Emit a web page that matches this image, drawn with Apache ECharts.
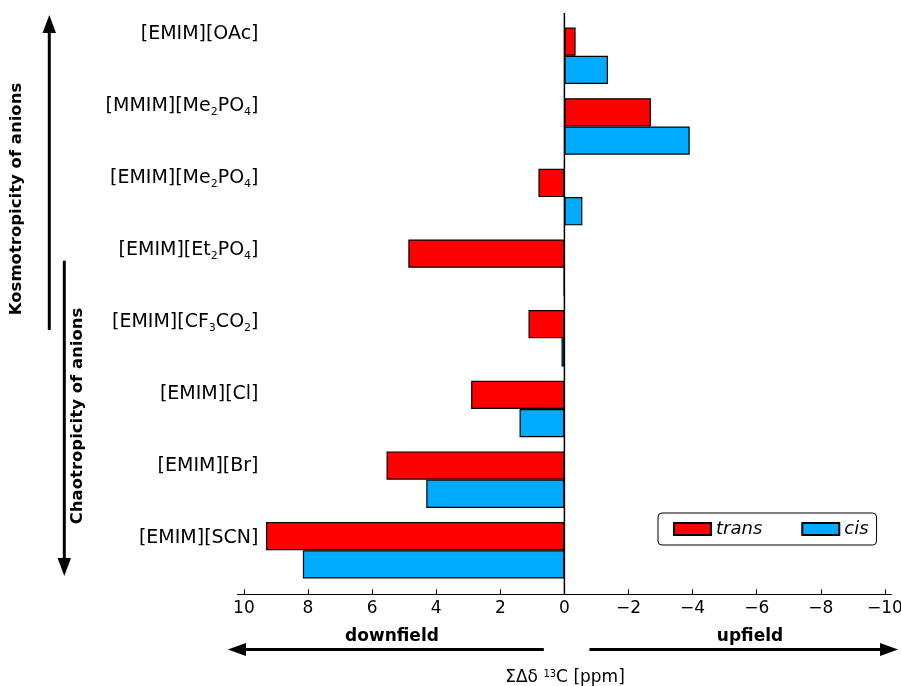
<!DOCTYPE html>
<html>
<head>
<meta charset="utf-8">
<title>13C chemical shift differences</title>
<script src="https://cdn.jsdelivr.net/npm/echarts@6/dist/echarts.min.js"></script>
<style>
  html, body { margin: 0; padding: 0; background: #fff; }
  #chart { width: 901px; height: 686px; }
</style>
</head>
<body>
<div id="chart"></div>
<script>
// Ionic liquids, top to bottom (rich-text markup for subscripts)
const categories = [
  '[EMIM][OAc]',
  '[MMIM][Me{s|2}PO{s|4}]',
  '[EMIM][Me{s|2}PO{s|4}]',
  '[EMIM][Et{s|2}PO{s|4}]',
  '[EMIM][CF{s|3}CO{s|2}]',
  '[EMIM][Cl]',
  '[EMIM][Br]',
  '[EMIM][SCN]'
];
// Sum of 13C shift differences, ppm (positive = downfield)
const transValues = [-0.35, -2.70, 0.81, 4.87, 1.12, 2.91, 5.55, 9.31];
const cisValues   = [-1.36, -3.91, -0.56, 0.02, 0.09, 1.40, 4.31, 8.16];
const tickValues  = [10, 8, 6, 4, 2, 0, -2, -4, -6, -8, -10];

const FONT = 'DejaVu Sans';
const chart = echarts.init(document.getElementById('chart'), null, { renderer: 'canvas' });

const xRange = { min: -10.2, max: 10.2, inverse: true };
const gridBase = { left: 237.5, right: 9.7, containLabel: false, outerBoundsMode: 'none' };

function arrowHead(tip, b1, b2) {
  return { type: 'polygon', shape: { points: [tip, b1, b2] }, style: { fill: '#000' }, z: 10 };
}
function shaft(p1, p2) {
  return { type: 'polyline', shape: { points: [p1, p2] }, style: { stroke: '#000', lineWidth: 3 }, z: 10 };
}

chart.setOption({
  animation: false,
  textStyle: { fontFamily: FONT },
  grid: [
    // bars
    Object.assign({ top: 20.5, bottom: 100.4 }, gridBase),
    // frame: zero line and bottom axis
    Object.assign({ top: 13, bottom: 91.7 }, gridBase),
    // row labels
    Object.assign({ top: -1.5, bottom: 112 }, gridBase)
  ],
  xAxis: [
    Object.assign({ type: 'value', gridIndex: 0, show: false, splitLine: { show: false } }, xRange),
    Object.assign({
      type: 'value', gridIndex: 1,
      splitLine: { show: false },
      axisLine: { show: true, onZero: false, lineStyle: { color: '#000', width: 1.2 } },
      axisTick: { show: true, inside: true, length: 5, customValues: tickValues, lineStyle: { color: '#000' } },
      axisLabel: {
        customValues: tickValues,
        color: '#000', fontFamily: FONT, fontSize: 17, margin: 6,
        formatter: v => String(v).replace('-', '\u2212')
      }
    }, xRange),
    Object.assign({ type: 'value', gridIndex: 2, show: false, splitLine: { show: false } }, xRange)
  ],
  yAxis: [
    {
      type: 'category', gridIndex: 0, data: categories, inverse: true, show: false
    },
    { type: 'value', gridIndex: 1, min: 0, max: 1, show: false },
    {
      type: 'category', gridIndex: 2, data: categories, inverse: true,
      axisLine: { show: false, onZero: false },
      axisTick: { show: false },
      splitLine: { show: false },
      axisLabel: {
        margin: -21, color: '#000', fontFamily: FONT, fontSize: 19,
        rich: {
          s: { fontSize: 11, fontFamily: FONT, color: '#000', padding: [12, 0, 0, 0] }
        }
      }
    }
  ],
  legend: {
    data: ['trans', 'cis'],
    left: 658, top: 513,
    orient: 'horizontal',
    itemWidth: 37, itemHeight: 12, itemGap: 39,
    icon: 'rect',
    padding: [7, 8, 7, 15],
    borderColor: '#000', borderWidth: 1, borderRadius: 4,
    backgroundColor: '#fff',
    textStyle: { fontFamily: FONT, fontSize: 18, fontStyle: 'italic', color: '#000' }
  },
  series: [
    {
      name: 'trans', type: 'bar', xAxisIndex: 0, yAxisIndex: 0,
      data: transValues, barGap: '0%', barCategoryGap: '20%',
      itemStyle: { color: '#ff0000', borderColor: '#000', borderWidth: 1.2 }
    },
    {
      name: 'cis', type: 'bar', xAxisIndex: 0, yAxisIndex: 0,
      data: cisValues, barGap: '0%', barCategoryGap: '20%',
      itemStyle: { color: '#00aaff', borderColor: '#000', borderWidth: 1.2 }
    },
    {
      // zero reference line spanning the full frame
      type: 'line', xAxisIndex: 1, yAxisIndex: 1,
      data: [[0, 0], [0, 1]], symbol: 'none', silent: true, z: 5,
      lineStyle: { color: '#000', width: 1.5 }
    }
  ],
  graphic: [
    {
      type: 'text', x: 17, y: 199, rotation: Math.PI / 2, z: 10,
      style: { text: 'Kosmotropicity of anions', font: 'bold 16.5px "DejaVu Sans"', fill: '#000', align: 'center', verticalAlign: 'middle' }
    },
    {
      type: 'text', x: 78, y: 416, rotation: Math.PI / 2, z: 10,
      style: { text: 'Chaotropicity of anions', font: 'bold 16.5px "DejaVu Sans"', fill: '#000', align: 'center', verticalAlign: 'middle' }
    },
    shaft([49.3, 330], [49.3, 30]),
    arrowHead([49.3, 15], [42.6, 33], [56, 33]),
    shaft([64.3, 260.7], [64.3, 560]),
    arrowHead([64.3, 576], [57.6, 558], [71, 558]),
    shaft([543.8, 649.5], [244, 649.5]),
    arrowHead([227.8, 649.5], [246, 643], [246, 656]),
    shaft([589.4, 649.5], [882, 649.5]),
    arrowHead([898, 649.5], [880, 643], [880, 656]),
    {
      type: 'text', x: 392, y: 637, z: 10,
      style: { text: 'downfield', font: 'bold 17px "DejaVu Sans"', fill: '#000', align: 'center', verticalAlign: 'middle' }
    },
    {
      type: 'text', x: 750, y: 637, z: 10,
      style: { text: 'upfield', font: 'bold 17px "DejaVu Sans"', fill: '#000', align: 'center', verticalAlign: 'middle' }
    },
    {
      type: 'text', x: 565, y: 678, z: 10,
      style: {
        text: 'ΣΔδ {sup|13}C [ppm]', fill: '#000', align: 'center', verticalAlign: 'middle',
        font: '17px "DejaVu Sans"',
        rich: {
          sup: { fontSize: 10, fontFamily: FONT, fill: '#000', padding: [0, 0, 8, 0] }
        }
      }
    }
  ]
});
</script>
</body>
</html>
